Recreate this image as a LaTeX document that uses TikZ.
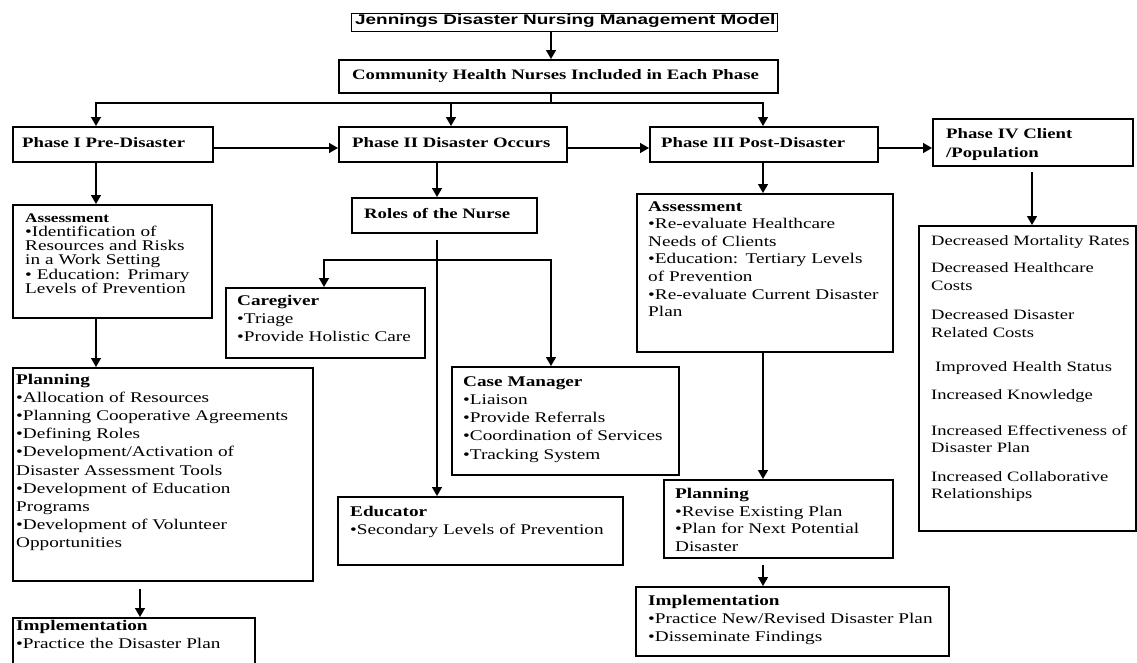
\documentclass[tikz,border=0pt]{standalone}
\usepackage{fontspec}
\setmainfont{Liberation Serif}
\newfontfamily\bodyf[FakeStretch=1.3]{Liberation Serif}
\newfontfamily\titlef[FakeStretch=1.35]{Liberation Sans}
\usetikzlibrary{arrows.meta,calc}
\newcommand\mkbox[6][box]{\node[#1, minimum width=#5pt, minimum height=#6pt] (#2) at (#3,#4) {};}
\begin{document}
\begin{tikzpicture}[x=1pt,y=-1pt,
  box/.style={draw, line width=1.6pt, inner sep=0pt, anchor=north west},
  tbox/.style={draw, line width=1pt, inner sep=0pt, anchor=north west},
  arr/.style={line width=1.4pt, -{Triangle[width=10pt,length=9pt]}},
  ln/.style={line width=1.4pt},
  txt/.style={inner sep=0pt, anchor=base west, text width=330pt, align=left, font={\bodyf\fontsize{14.8}{18.1}\selectfont}},
  otxt/.style={txt, font={\bodyf\fontsize{14.3}{17.5}\selectfont}},
  hd/.style={inner sep=0pt, anchor=base west, font={\bodyf\bfseries\fontsize{14.4}{18}\selectfont}},
]
\useasboundingbox (0,0) rectangle (1137,662);
% boxes
\mkbox[tbox]{title}{351}{13}{426}{18}
\mkbox{chn}{338}{59}{439}{33}
\mkbox{p1}{12}{126}{200}{35}
\mkbox{p2}{338}{126}{228}{35}
\mkbox{p3}{649}{126}{228}{35}
\mkbox{p4}{932}{118}{200}{47}
\mkbox{a1}{12}{204}{199}{113}
\mkbox{roles}{351}{197}{185}{35}
\mkbox{care}{225}{287}{199}{70}
\mkbox{cm}{451}{366}{227}{108}
\mkbox{edu}{337}{496}{285}{68}
\mkbox{a3}{636}{193}{256}{158}
\mkbox{pl1}{12}{367}{300}{213}
\mkbox{im1}{12}{617}{242}{60}
\mkbox{pl3}{663}{479}{229}{78}
\mkbox{im3}{635}{586}{313}{69}
\mkbox{out}{918}{225}{217}{305}
% column / junction coordinates
\coordinate (c96) at (96,0);
\coordinate (c140) at (140,0);
\coordinate (c324) at (324,0);
\coordinate (c437) at (437,0);
\coordinate (c451) at (451,0);
\coordinate (c551) at (551,0);
\coordinate (c763) at (763,0);
\coordinate (c1032) at (1032,0);
\coordinate (h1) at (0,148);
\coordinate (j1) at (551,103);
\coordinate (j2) at (437,260);
% texts
\node[inner sep=0pt, anchor=base west, font={\titlef\bfseries\fontsize{14}{16}\selectfont}] (titlet) at (355,24) {Jennings Disaster Nursing Management Model};
\node[hd] (chnt) at (352,79) {Community Health Nurses Included in Each Phase};
\node[hd] (p1t) at (22,147) {Phase I Pre-Disaster};
\node[hd] (p2t) at (352,147) {Phase II Disaster Occurs};
\node[hd] (p3t) at (661,147) {Phase III Post-Disaster};
\node[hd, text width=200pt, align=left, font={\bodyf\bfseries\fontsize{14.4}{19}\selectfont}] (p4t) at (946,138) {Phase IV Client\\/Population};
\node[hd] (rolest) at (364,218) {Roles of the Nurse};
\node[txt, font={\bodyf\fontsize{14.8}{14.3}\selectfont}] (a1t) at (25,222) {{\fontsize{13.2}{14.3}\selectfont\bfseries Assessment}\\•Identification of\\Resources and Risks\\in a Work Setting\\• Education: Primary\\Levels of Prevention};
\node[txt] (caret) at (237,305) {\textbf{Caregiver}\\•Triage\\•Provide Holistic Care};
\node[txt, font={\bodyf\fontsize{14.8}{18.3}\selectfont}] (cmt) at (463,386) {\textbf{Case Manager}\\•Liaison\\•Provide Referrals\\•Coordination of Services\\•Tracking System};
\node[txt] (edut) at (350,516) {\textbf{Educator}\\•Secondary Levels of Prevention};
\node[txt, font={\bodyf\fontsize{14.8}{17.6}\selectfont}] (a3t) at (648,211) {\textbf{Assessment}\\•Re-evaluate Healthcare\\Needs of Clients\\•Education: Tertiary Levels\\of Prevention\\•Re-evaluate Current Disaster\\Plan};
\node[txt] (pl1t) at (16,384.5) {\textbf{Planning}\\•Allocation of Resources\\•Planning Cooperative Agreements\\•Defining Roles\\•Development/Activation of\\Disaster Assessment Tools\\•Development of Education\\Programs\\•Development of Volunteer\\Opportunities};
\node[txt] (im1t) at (16,630) {\textbf{Implementation}\\•Practice the Disaster Plan};
\node[txt, font={\bodyf\fontsize{14.8}{17.7}\selectfont}] (pl3t) at (675,498.5) {\textbf{Planning}\\•Revise Existing Plan\\•Plan for Next Potential\\Disaster};
\node[txt] (im3t) at (648,605) {\textbf{Implementation}\\•Practice New/Revised Disaster Plan\\•Disseminate Findings};
\node[otxt] (o1) at (931,245.5) {Decreased Mortality Rates};
\node[otxt] (o2) at (931,272.5) {Decreased Healthcare\\Costs};
\node[otxt] (o3) at (931,319.5) {Decreased Disaster\\Related Costs};
\node[otxt] (o4) at (935,371.5) {Improved Health Status};
\node[otxt] (o5) at (931,399.5) {Increased Knowledge};
\node[otxt, font={\bodyf\fontsize{14.3}{17}\selectfont}] (o6) at (931,435.5) {Increased Effectiveness of\\Disaster Plan};
\node[otxt, font={\bodyf\fontsize{14.3}{17}\selectfont}] (o7) at (931,481.5) {Increased Collaborative\\Relationships};
% connectors
\draw[arr] (title.south -| c551) -- (chn.north -| c551);
\draw[ln] (chn.south -| c551) -- (j1);
\draw[arr] (j1) -| (p1.north -| c96);
\draw[arr] (j1) -| (p2.north -| c451);
\draw[arr] (j1) -| (p3.north -| c763);
\draw[arr] (p1.east |- h1) -- (p2.west |- h1);
\draw[arr] (p2.east |- h1) -- (p3.west |- h1);
\draw[arr] (p3.east |- h1) -- (p4.west |- h1);
\draw[arr] (p1.south -| c96) -- (a1.north -| c96);
\draw[arr] (a1.south -| c96) -- (pl1.north -| c96);
\draw[arr] ($(pl1.south -| c140)+(0,7)$) -- (im1.north -| c140);
\draw[arr] (p2.south -| c437) -- (roles.north -| c437);
\draw[arr] ($(roles.south -| c437)+(0,6)$) -- (edu.north -| c437);
\draw[arr] (j2) -| (care.north -| c324);
\draw[arr] (j2) -| (cm.north -| c551);
\draw[arr] (p3.south -| c763) -- (a3.north -| c763);
\draw[arr] (a3.south -| c763) -- (pl3.north -| c763);
\draw[arr] ($(pl3.south -| c763)+(0,6)$) -- (im3.north -| c763);
\draw[arr] ($(p4.south -| c1032)+(0,5)$) -- (out.north -| c1032);
\end{tikzpicture}
\end{document}
